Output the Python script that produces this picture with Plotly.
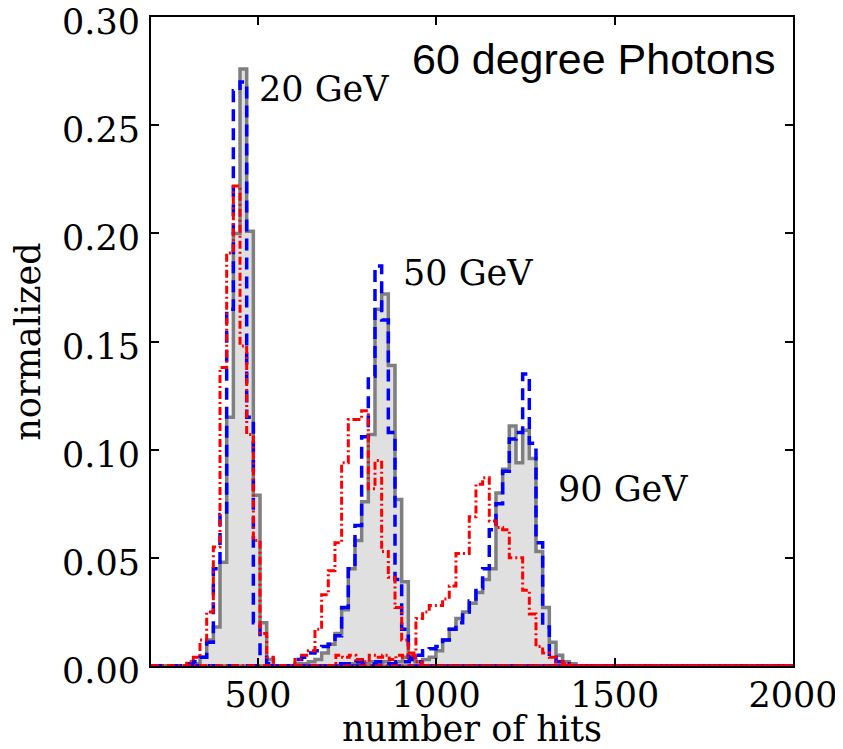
import plotly.graph_objects as go

# Bins do histograma (número de hits)
largura_bin = 18.7
inicio_20 = 300.0
inicio_50 = 603.6
inicio_90 = 718.4

# 20 GeV
cinza_20 = [0.000, 0.001, 0.004, 0.012, 0.018, 0.048, 0.115, 0.200, 0.276, 0.201, 0.079, 0.020, 0.003]
azul_20 = [0.001, 0.002, 0.004, 0.011, 0.045, 0.070, 0.165, 0.266, 0.270, 0.115, 0.020, 0.005, 0.001]
vermelho_20 = [0.002, 0.004, 0.012, 0.025, 0.055, 0.138, 0.191, 0.222, 0.148, 0.107, 0.058, 0.015, 0.004]

# 50 GeV
cinza_50 = [0.001, 0.001, 0.002, 0.003, 0.006, 0.010, 0.015, 0.026, 0.045, 0.058, 0.076, 0.107,
            0.165, 0.172, 0.139, 0.077, 0.039, 0.004, 0.002]
azul_50 = [0.003, 0.004, 0.006, 0.007, 0.009, 0.010, 0.014, 0.027, 0.045, 0.065, 0.106, 0.134,
           0.185, 0.160, 0.108, 0.040, 0.017, 0.004, 0.002]
vermelho_50 = [0.003, 0.005, 0.007, 0.017, 0.033, 0.044, 0.057, 0.094, 0.114, 0.114, 0.118, 0.082,
               0.095, 0.053, 0.041, 0.027, 0.012, 0.005, 0.002]

# 90 GeV
cinza_90 = [0.000, 0.001, 0.001, 0.001, 0.001, 0.002, 0.001, 0.002, 0.001, 0.002, 0.004, 0.003,
            0.002, 0.003, 0.004, 0.007, 0.012, 0.017, 0.022, 0.025, 0.029, 0.034, 0.040, 0.045,
            0.080, 0.091, 0.111, 0.094, 0.109, 0.096, 0.053, 0.027, 0.011, 0.005, 0.002, 0.001]
azul_90 = [0.001, 0.001, 0.001, 0.002, 0.001, 0.001, 0.002, 0.001, 0.001, 0.002, 0.002, 0.003,
           0.005, 0.007, 0.008, 0.009, 0.012, 0.017, 0.020, 0.025, 0.030, 0.036, 0.045, 0.063,
           0.075, 0.090, 0.105, 0.108, 0.135, 0.103, 0.057, 0.018, 0.004, 0.002, 0.001, 0.000]
vermelho_90 = [0.005, 0.004, 0.005, 0.003, 0.002, 0.005, 0.004, 0.005, 0.003, 0.005, 0.004, 0.006,
               0.022, 0.025, 0.028, 0.028, 0.031, 0.037, 0.052, 0.052, 0.069, 0.084, 0.087, 0.067,
               0.064, 0.063, 0.050, 0.050, 0.035, 0.024, 0.009, 0.006, 0.004, 0.002, 0.001, 0.000]

energias = ['20 GeV', '50 GeV', '90 GeV']
posicoes_rotulo = [(497, 0.267), (902, 0.1815), (1336, 0.082)]

x_min, x_max = 200, 2000
x_ticks = [500, 1000, 1500, 2000]
y_ticks = [0.00, 0.05, 0.10, 0.15, 0.20, 0.25, 0.30]


def passos(inicio, valores):
    """Converte um histograma em pontos para uma linha em degraus."""
    bordas = [inicio + i * largura_bin for i in range(len(valores) + 1)]
    x = [x_min, bordas[0]] + bordas + [x_max]
    y = [0, 0] + list(valores) + [0, 0]
    return x, y


series = {
    'cinza': [(inicio_20, cinza_20), (inicio_50, cinza_50), (inicio_90, cinza_90)],
    'azul': [(inicio_20, azul_20), (inicio_50, azul_50), (inicio_90, azul_90)],
    'vermelho': [(inicio_20, vermelho_20), (inicio_50, vermelho_50), (inicio_90, vermelho_90)],
}

fig = go.Figure()

# Preenchimento cinza
for inicio, valores in series['cinza']:
    x, y = passos(inicio, valores)
    fig.add_trace(go.Scatter(x=x, y=y, mode='lines', line=dict(shape='hv', width=0),
                             fill='tozeroy', fillcolor='#e0e0e0', showlegend=False, hoverinfo='skip'))

estilos = {
    'cinza': dict(color='#7f7f7f', width=3.5),
    'azul': dict(color='#0000ff', width=3.5, dash='12px,7px'),
    'vermelho': dict(color='#ff0000', width=3, dash='8px,3px,2px,3px'),
}

for nome in ['cinza', 'azul', 'vermelho']:
    for inicio, valores in series[nome]:
        x, y = passos(inicio, valores)
        fig.add_trace(go.Scatter(x=x, y=y, mode='lines', line=dict(shape='hv', **estilos[nome]),
                                 showlegend=False))

fonte_serif = dict(family='DejaVu Serif', size=35, color='black')

# Rótulos das energias
for texto, (px_, py_) in zip(energias, posicoes_rotulo):
    fig.add_annotation(x=px_, y=py_, text=texto, showarrow=False, xanchor='left', yanchor='middle',
                       font=fonte_serif)

fig.add_annotation(x=0.975, y=0.935, xref='paper', yref='paper', text='60 degree Photons',
                   showarrow=False, xanchor='right', yanchor='middle',
                   font=dict(family='Liberation Sans', size=43, color='black'))

# Rótulos do eixo y um pouco abaixo do tick, como no matplotlib
for v in y_ticks:
    fig.add_annotation(x=0, xref='paper', y=v, yref='y', text=f'{v:.2f}', showarrow=False,
                       xanchor='right', yanchor='middle', xshift=-9, yshift=-5, font=fonte_serif)

eixo = dict(showgrid=False, zeroline=False, showline=True, linecolor='black', linewidth=1.5,
            mirror='ticks', ticks='inside', ticklen=8, tickwidth=1.5, tickcolor='black',
            automargin=False, ticklabeloverflow='allow', tickfont=fonte_serif)

# A página tem margem de 8px, por isso a figura é 8px menor
fig.update_layout(
    width=835, height=741,
    margin=dict(l=143, r=50, t=9, b=83),
    plot_bgcolor='white', paper_bgcolor='white',
    xaxis=dict(range=[x_min, x_max], tickvals=x_ticks, ticklabelstandoff=-3,
               title=dict(text='number of hits', font=fonte_serif, standoff=10),
               **eixo),
    yaxis=dict(range=[0, 0.3001], tickvals=y_ticks, showticklabels=False,
               title=dict(text='normalized', font=fonte_serif, standoff=104),
               **eixo),
)

fig.write_html("out.html")
